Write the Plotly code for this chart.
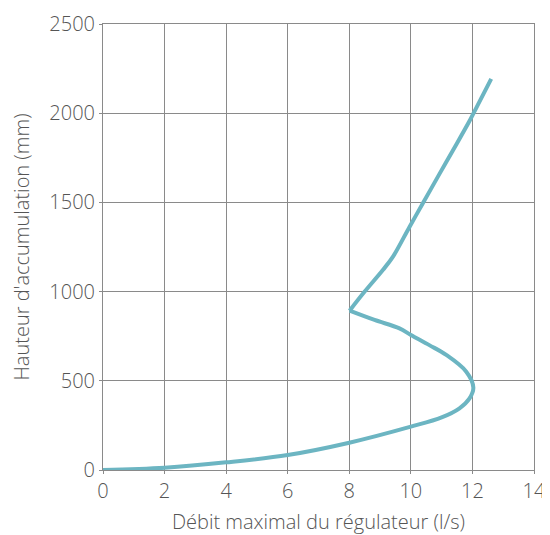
import plotly.graph_objects as go

debit = [0, 2, 4, 6, 8, 10, 11.0, 11.58, 11.9, 12.03, 11.8, 11.15, 10.6, 10.0, 9.63, 8.82, 8.01,
         8.5, 9.09, 9.42, 9.96, 10.39, 10.93, 11.36, 11.90, 12.23, 12.61]
hauteur = [0, 13, 43, 84, 153, 243, 295, 346, 400, 462, 551, 645, 700, 757, 794, 841, 893,
           1000, 1121, 1196, 1364, 1495, 1660, 1790, 1955, 2065, 2192]

x_ticks = [0, 2, 4, 6, 8, 10, 12, 14]
y_ticks = [0, 500, 1000, 1500, 2000, 2500]

FONT = "Open Sans, sans-serif"
GRID = "#8a8a8a"
TXT = "#555555"

corner = 16  # index of the sharp corner

fig = go.Figure()
for seg in (slice(0, corner + 1), slice(corner, None)):
    fig.add_trace(go.Scatter(x=debit[seg], y=hauteur[seg], mode="lines",
                             line=dict(color="#6cb5c2", width=4, shape="spline", smoothing=1.0),
                             showlegend=False))

axis_common = dict(showgrid=True, gridcolor=GRID, gridwidth=1, zeroline=False,
                   showline=True, linecolor=GRID, linewidth=1, mirror=True,
                   ticks="outside", ticklen=3, tickcolor=GRID, automargin=False,
                   tickfont=dict(family=FONT, size=20, color=TXT, weight=300))

# page body has an 8px margin, so the figure is shifted by 8px
fig.update_layout(
    width=542, height=527,
    margin=dict(l=95, r=16, t=16, b=65),
    plot_bgcolor="white", paper_bgcolor="white",
    xaxis=dict(range=[0, 14], tickvals=x_ticks, ticktext=[str(v) for v in x_ticks],
               title=dict(text="Débit maximal du régulateur (l/s)", standoff=14,
                          font=dict(family=FONT, size=20, color=TXT, weight=300)),
               **axis_common),
    yaxis=dict(range=[0, 2500], tickvals=y_ticks, ticktext=[str(v) for v in y_ticks],
               title=dict(text="Hauteur d'accumulation (mm)", standoff=14,
                          font=dict(family=FONT, size=20, color=TXT, weight=300)),
               **axis_common),
)

fig.write_html("out.html")
